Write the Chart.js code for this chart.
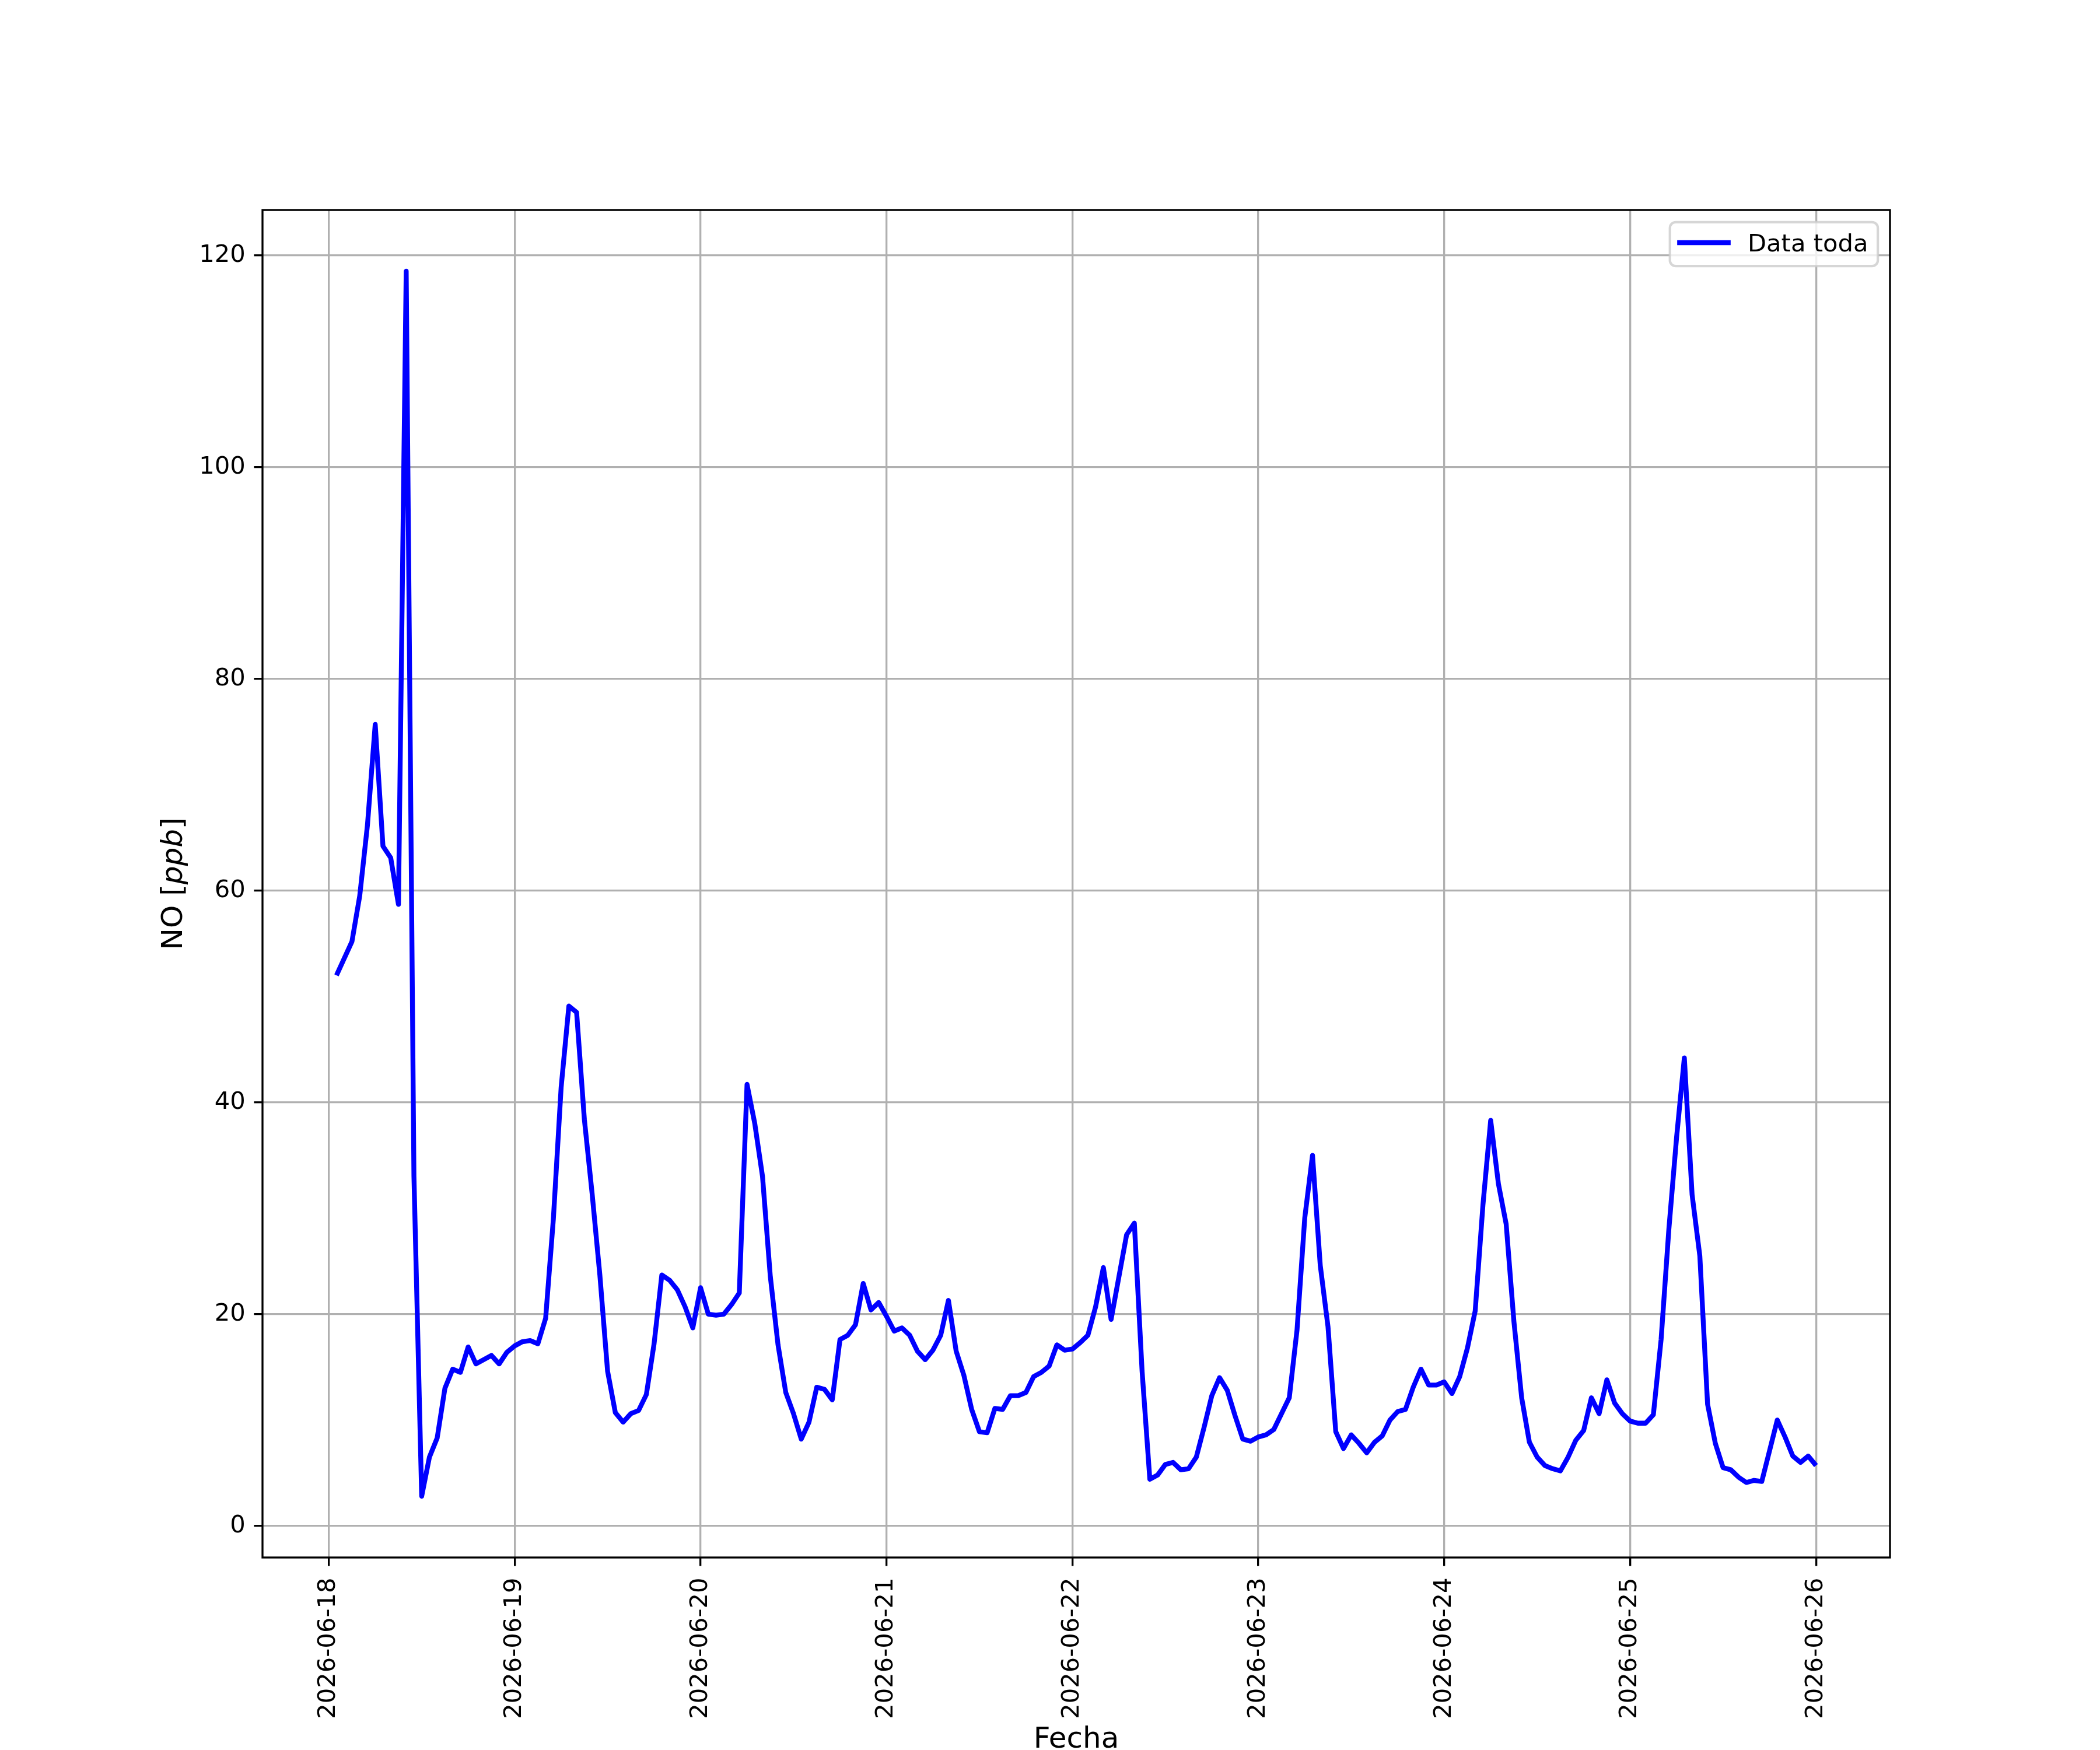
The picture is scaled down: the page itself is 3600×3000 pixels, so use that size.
<!DOCTYPE html>
<html>
<head>
<meta charset="utf-8">
<title>NO - Data toda</title>
<script src="https://cdn.jsdelivr.net/npm/chart.js@4.4.1/dist/chart.umd.min.js"></script>
<style>
  html, body { margin: 0; padding: 0; background: #fff; overflow: hidden; }
  #grafico { display: block; }
</style>
</head>
<body>
<canvas id="grafico" width="3600" height="3000" style="width:3600px;height:3000px"></canvas>
<script>
// Fechas del eje x (una marca por dia)
const dias = ['2026-06-18', '2026-06-19', '2026-06-20', '2026-06-21', '2026-06-22',
              '2026-06-23', '2026-06-24', '2026-06-25', '2026-06-26'];

// NO [ppb], valores horarios (hora 00 ... 23 de cada dia); null = sin dato
const no_0618 = [null, 52.0, null, 55.2, 59.5, 66.2, 75.7, 64.2, 63.1, 58.7, 118.5, 33.0,
                 2.8, 6.5, 8.3, 13.0, 14.8, 14.5, 16.9, 15.3, 15.7, 16.1, 15.3, 16.4];
const no_0619 = [17.0, 17.4, 17.5, 17.2, 19.6, 29.0, 41.4, 49.1, 48.5, 38.4, 31.4, 23.7,
                 14.6, 10.7, 9.8, 10.6, 10.9, 12.4, 17.2, 23.7, 23.2, 22.3, 20.7, 18.7];
const no_0620 = [22.5, 20.0, 19.9, 20.0, 20.9, 22.0, 41.7, 38.0, 33.0, 23.6, 17.1, 12.6,
                 10.6, 8.2, 9.8, 13.1, 12.9, 11.9, 17.6, 18.0, 19.0, 22.9, 20.4, 21.1];
const no_0621 = [19.8, 18.4, 18.7, 18.0, 16.5, 15.7, 16.6, 18.0, 21.3, 16.5, 14.2, 11.0,
                 8.9, 8.8, 11.1, 11.0, 12.3, 12.3, 12.6, 14.1, 14.5, 15.1, 17.1, 16.6];
const no_0622 = [16.7, 17.3, 18.0, 20.7, 24.4, 19.5, 23.5, 27.5, 28.6, 14.6, 4.4, 4.8,
                 5.8, 6.0, 5.3, 5.4, 6.5, 9.3, 12.3, 14.0, 12.8, 10.4, 8.2, 8.0];
const no_0623 = [8.4, 8.6, 9.1, 10.6, 12.1, 18.5, 29.1, 35.0, 24.6, 18.8, 8.9, 7.3,
                 8.6, 7.8, 6.9, 7.9, 8.5, 10.0, 10.8, 11.0, 13.1, 14.8, 13.3, 13.3];
const no_0624 = [13.6, 12.5, 14.1, 16.8, 20.3, 30.3, 38.3, 32.3, 28.5, 19.3, 12.1, 7.9,
                 6.5, 5.7, 5.4, 5.2, 6.5, 8.1, 9.0, 12.1, 10.6, 13.8, 11.6, 10.6];
const no_0625 = [9.9, 9.7, 9.7, 10.5, 17.6, 28.0, 36.7, 44.2, 31.3, 25.5, 11.5, 7.8,
                 5.5, 5.3, 4.6, 4.1, 4.3, 4.2, 7.1, 10.0, 8.4, 6.6, 6.0, 6.6];
const no_0626 = [5.7];

const ticksY = [0, 20, 40, 60, 80, 100, 120];
const nombreSerie = 'Data toda';
const tituloX = 'Fecha';

// puntos (x = horas desde 2026-06-18 00:00)
const valoresPorDia = [no_0618, no_0619, no_0620, no_0621, no_0622, no_0623, no_0624, no_0625, no_0626];
const puntos = [];
valoresPorDia.forEach((valores, d) => {
  valores.forEach((v, h) => {
    if (v !== null) puntos.push({ x: d * 24 + h, y: v });
  });
});

// margenes como matplotlib (5 %)
const xs = puntos.map(p => p.x), ys = puntos.map(p => p.y);
const xMin = Math.min(...xs), xMax = Math.max(...xs);
const yMin = Math.min(...ys), yMax = Math.max(...ys);
const mx = (xMax - xMin) * 0.05, my = (yMax - yMin) * 0.05;

const FUENTE = 'DejaVu Sans';
const PT = 300 / 72;            // px por punto a 300 dpi
const tamTick = 10 * PT;
const tamTitulo = 12 * PT;

const marcoYLeyenda = {
  id: 'marcoYLeyenda',
  afterDatasetsDraw(chart) {
    const { ctx, chartArea: a } = chart;
    ctx.save();
    ctx.strokeStyle = '#000';
    ctx.lineWidth = 0.8 * PT;
    ctx.strokeRect(a.left, a.top, a.right - a.left, a.bottom - a.top);
    ctx.restore();
  },
  afterDraw(chart) {
    const { ctx, chartArea: a } = chart;
    ctx.save();

    // leyenda (arriba a la derecha)
    ctx.font = `${tamTick}px "${FUENTE}"`;
    const anchoTexto = ctx.measureText(nombreSerie).width;
    const pad = 0.4 * tamTick, largo = 2 * tamTick, sep = 0.8 * tamTick;
    const w = pad + largo + sep + anchoTexto + pad;
    const h = 75.3;
    const bx = a.right - 0.5 * tamTick - w;
    const by = a.top + 0.5 * tamTick;
    ctx.beginPath();
    ctx.roundRect(bx, by, w, h, 10);
    ctx.fillStyle = 'rgba(255,255,255,0.8)';
    ctx.fill();
    ctx.strokeStyle = 'rgba(204,204,204,0.8)';
    ctx.lineWidth = 1 * PT;
    ctx.stroke();
    ctx.beginPath();
    ctx.moveTo(bx + pad, by + 35.2);
    ctx.lineTo(bx + pad + largo, by + 35.2);
    ctx.strokeStyle = '#0000ff';
    ctx.lineWidth = 2 * PT;
    ctx.lineCap = 'square';
    ctx.stroke();
    ctx.fillStyle = '#000';
    ctx.textBaseline = 'alphabetic';
    ctx.textAlign = 'left';
    ctx.fillText(nombreSerie, bx + pad + largo + sep, by + 49.9);

    // titulo eje x
    ctx.font = `${tamTitulo}px "${FUENTE}"`;
    ctx.textAlign = 'center';
    ctx.fillText(tituloX, (a.left + a.right) / 2, a.bottom + 325.7);

    // titulo eje y: NO [ppb] con ppb en cursiva
    const partes = [['NO [', ''], ['ppb', 'italic '], [']', '']];
    let total = 0;
    partes.forEach(([t, est]) => {
      ctx.font = `${est}${tamTitulo}px "${FUENTE}"`;
      total += ctx.measureText(t).width;
    });
    ctx.translate(a.left - 138.5, (a.top + a.bottom) / 2);
    ctx.rotate(-Math.PI / 2);
    ctx.textAlign = 'left';
    let px = -total / 2;
    partes.forEach(([t, est]) => {
      ctx.font = `${est}${tamTitulo}px "${FUENTE}"`;
      ctx.fillText(t, px, 0);
      px += ctx.measureText(t).width;
    });
    ctx.restore();
  }
};

new Chart(document.getElementById('grafico'), {
  type: 'line',
  data: {
    datasets: [{
      label: nombreSerie,
      data: puntos,
      borderColor: '#0000ff',
      backgroundColor: '#0000ff',
      borderWidth: 2 * PT,
      borderJoinStyle: 'round',
      pointRadius: 0,
      tension: 0,
      fill: false,
      spanGaps: true
    }]
  },
  options: {
    responsive: false,
    maintainAspectRatio: false,
    devicePixelRatio: 1,
    animation: false,
    events: [],
    layout: { padding: { left: 0, top: 360, right: 360, bottom: 0 } },
    plugins: {
      legend: { display: false },
      tooltip: { enabled: false },
      title: { display: false }
    },
    scales: {
      x: {
        type: 'linear',
        min: xMin - mx,
        max: xMax + mx,
        afterFit: s => { s.height = 330; },
        afterBuildTicks: s => { s.ticks = dias.map((_, i) => ({ value: i * 24 })); },
        ticks: {
          autoSkip: false,
          minRotation: 90,
          maxRotation: 90,
          padding: 20,
          color: '#000',
          font: { family: FUENTE, size: tamTick },
          callback: v => dias[Math.round(v / 24)]
        },
        grid: {
          color: '#b0b0b0',
          lineWidth: 0.8 * PT,
          drawTicks: true,
          tickLength: 3.5 * PT,
          tickColor: '#000',
          tickWidth: 0.8 * PT
        },
        border: { display: false }
      },
      y: {
        type: 'linear',
        min: yMin - my,
        max: yMax + my,
        afterFit: s => { s.width = 450; },
        afterBuildTicks: s => { s.ticks = ticksY.map(v => ({ value: v })); },
        ticks: {
          padding: 3.5 * PT,
          color: '#000',
          font: { family: FUENTE, size: tamTick },
          callback: v => String(v)
        },
        grid: {
          color: '#b0b0b0',
          lineWidth: 0.8 * PT,
          drawTicks: true,
          tickLength: 3.5 * PT,
          tickColor: '#000',
          tickWidth: 0.8 * PT
        },
        border: { display: false }
      }
    }
  },
  plugins: [marcoYLeyenda]
});
</script>
</body>
</html>
